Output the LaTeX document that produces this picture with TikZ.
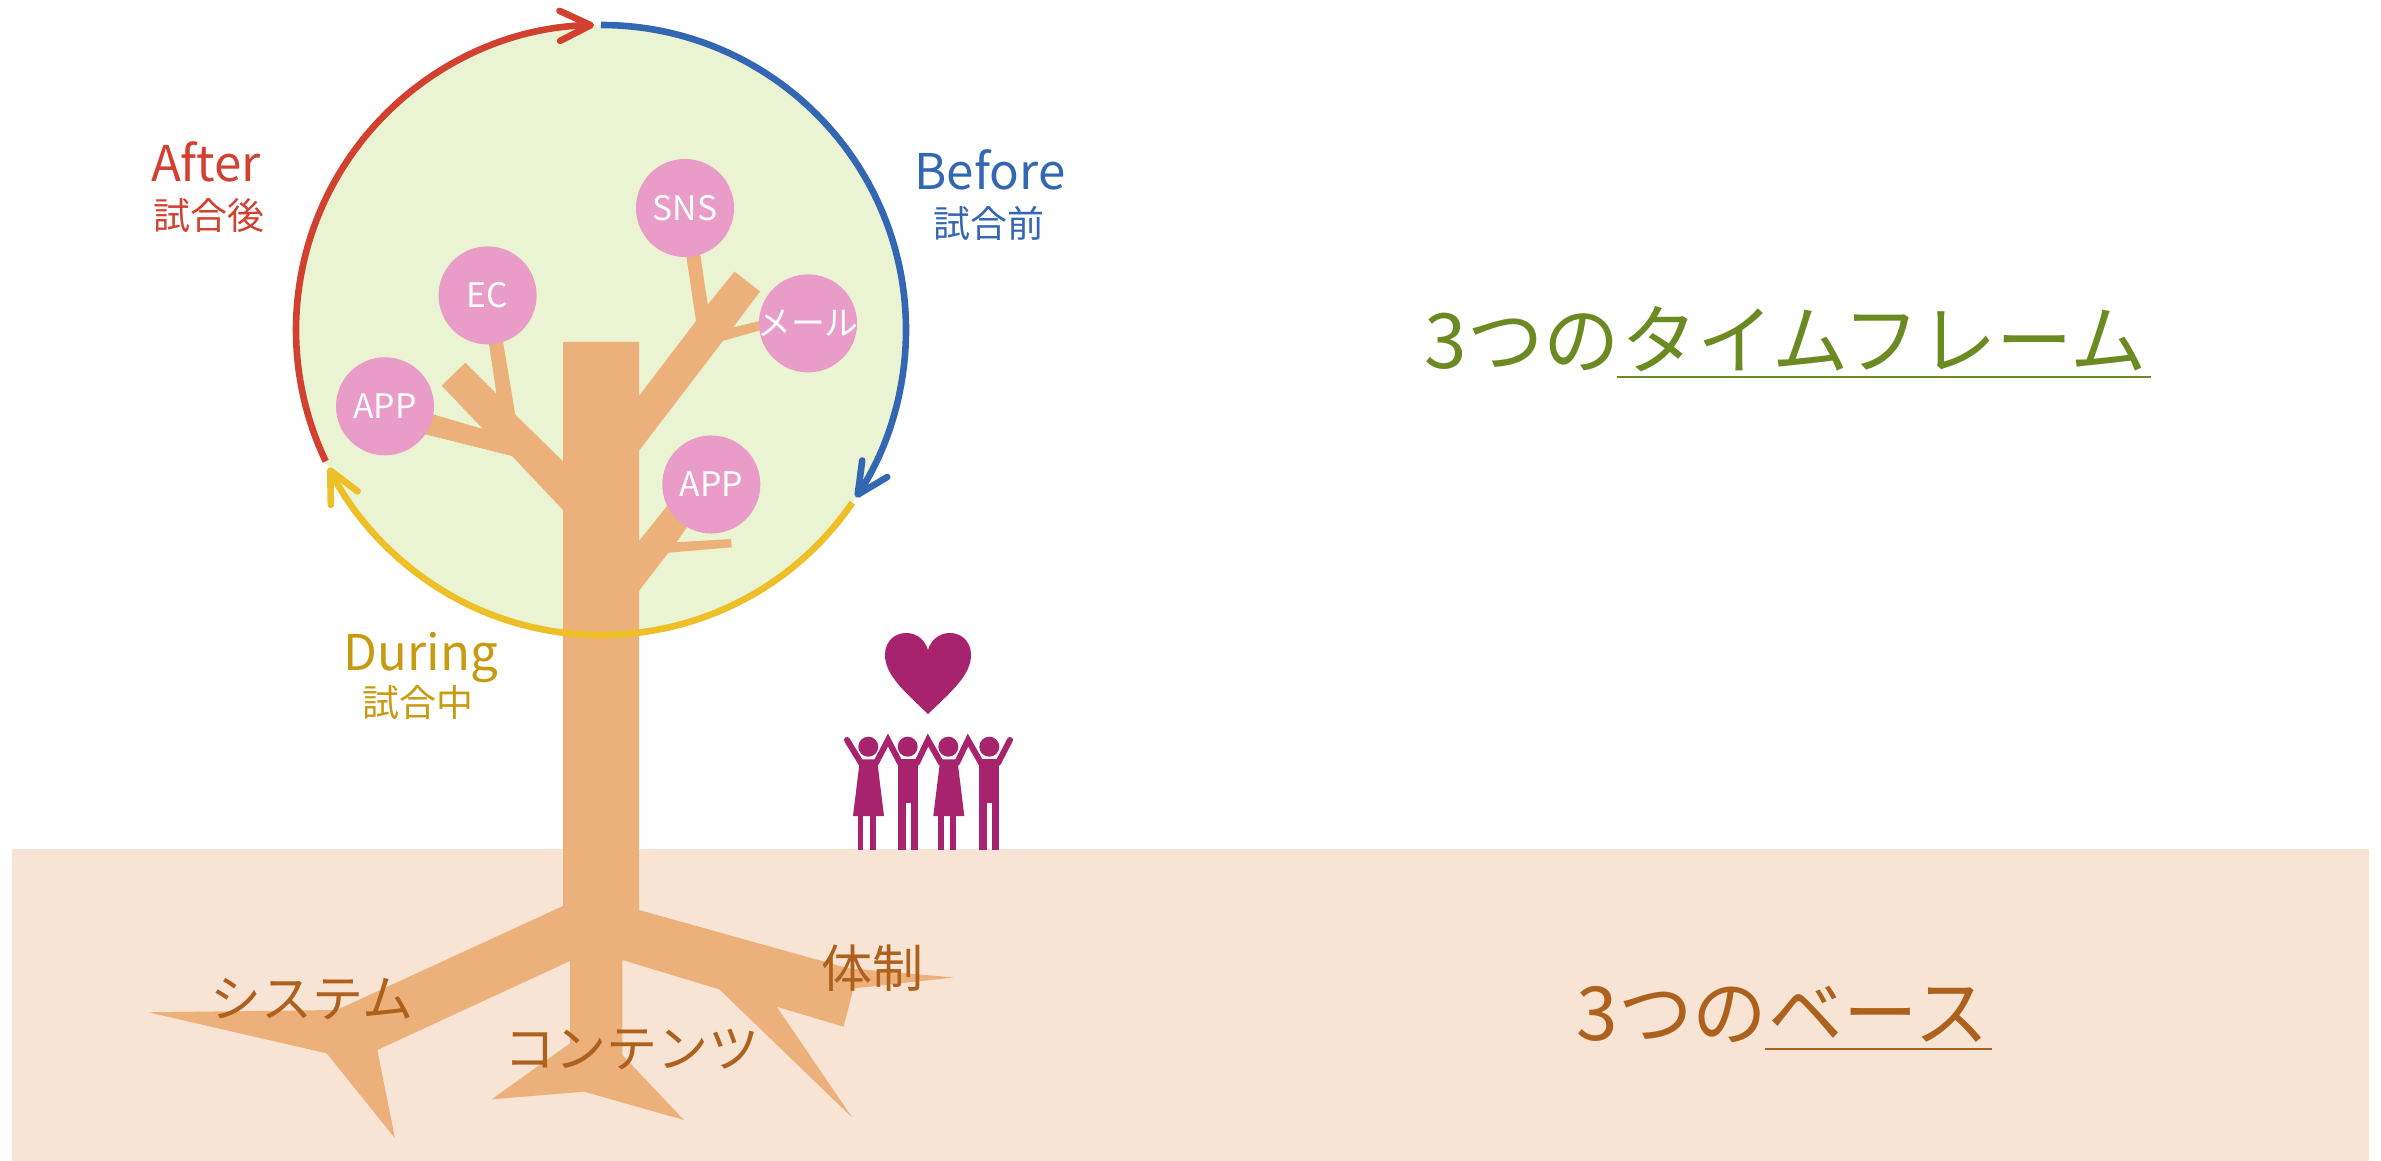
\documentclass[tikz,border=0pt]{standalone}
\usepackage{fontspec}
\setmainfont{Noto Sans CJK JP}
\usetikzlibrary{arrows.meta,calc}

\definecolor{treec}{HTML}{ECB17A}
\definecolor{groundc}{HTML}{F8E4D4}
\definecolor{crownc}{HTML}{EAF3D2}
\definecolor{bubblec}{HTML}{E89CC7}
\definecolor{afterc}{HTML}{D2412F}
\definecolor{beforec}{HTML}{3366B3}
\definecolor{duringc}{HTML}{EEBF26}
\definecolor{duringtxt}{HTML}{C79A0F}
\definecolor{framec}{HTML}{6B8A22}
\definecolor{basec}{HTML}{AD611C}
\definecolor{fanc}{HTML}{A8236E}

\begin{document}
\begin{tikzpicture}[x=0.01cm,y=-0.01cm,
  cyclearc/.style={line width=0.066cm,-{Straight Barb[length=0.31cm,width=0.3cm,round]}},
  bubble/.style={circle,fill=bubblec,minimum size=0.98cm,inner sep=0pt},
  bubbletext/.style={text=white,font=\fontsize{9.6pt}{11pt}\selectfont,inner sep=0pt},
  phase/.style={font=\fontsize{14pt}{16pt}\selectfont,inner sep=0pt},
  phasejp/.style={font=\fontsize{10.5pt}{12pt}\selectfont,inner sep=0pt},
  rootlabel/.style={text=basec,font=\fontsize{14.5pt}{16pt}\selectfont,inner sep=0pt},
  headline/.style={font=\fontsize{21.7pt}{24pt}\selectfont,inner sep=0pt,anchor=base west},
  baseline/.style={font=\fontsize{21.2pt}{24pt}\selectfont,inner sep=0pt,anchor=base west},
  limb/.style={line width=0.06cm,line cap=round,draw=fanc}
]
\useasboundingbox (0,0) rectangle (2381,1161);

% ground
\fill[groundc] (12,849) rectangle (2369,1161);

% crown
\coordinate (c) at (601,330);
\fill[crownc] (c) circle[radius=305];

% trunk and roots
\fill[treec] (563,342) -- (639,342) -- (639,910) -- (847,968) -- (953.5,977.5)
  -- (853.5,988.5) -- (843.5,1026.7) -- (776.7,1006.7) -- (852.3,1117.7)
  -- (719.3,989.3) -- (622.3,960) -- (622.3,1055) -- (684,1120) -- (584,1091.7)
  -- (491.7,1099.3) -- (570,1043.3) -- (570,961) -- (377.3,1050) -- (395,1138.3)
  -- (326.7,1053.3) -- (148.3,1012.3) -- (336.7,1010) -- (563,906) -- cycle;

% left branch
\fill[treec] (563,510) -- (512,456) -- (420,433) -- (425,412) -- (483,429)
  -- (441.6,385.6) -- (465.3,362.8) -- (496.5,394) -- (487.6,335) -- (501.9,335)
  -- (515.3,414.6) -- (563,461.4) -- cycle;
% right branch
\fill[treec] (639,396) -- (696,321) -- (685.4,250) -- (699.6,250) -- (707.7,304.7)
  -- (734.5,271.6) -- (760,291.5) -- (733,327.5) -- (770,318.5) -- (772,327)
  -- (723,340.8) -- (639,450.7) -- cycle;
% lower right branch
\fill[treec] (639,541) -- (680,490) -- (700,500) -- (686.2,528.6) -- (676.4,542.3)
  -- (730.9,539) -- (731.8,547.3) -- (668.4,552.7) -- (639,590.8) -- cycle;

% channels
\node[bubble] (sns) at (685,208) {};
\node[bubble] (ec) at (487.6,295.4) {};
\node[bubble] (appl) at (385,406.3) {};
\node[bubble] (mail) at (808,323.4) {};
\node[bubble] (appr) at (711.3,484.5) {};
\node[bubbletext] (snst) at (sns) {SNS};
\node[bubbletext] (ect) at (ec) {EC};
\node[bubbletext] (applt) at (appl) {APP};
\node[bubbletext] (mailt) at (mail) {メール};
\node[bubbletext] (apprt) at (appr) {APP};

% time cycle
\draw[cyclearc,beforec] ($(c)+(-90:305)$) arc[start angle=-90,end angle=33.3,radius=305];
\draw[cyclearc,duringc] ($(c)+(34.5:305)$) arc[start angle=34.5,end angle=153.2,radius=305];
\draw[cyclearc,afterc] ($(c)+(154.5:305)$) arc[start angle=154.5,end angle=268.7,radius=305];

% phase labels
\node[phase,text=afterc,anchor=base] (after) at (206,181.7) {After};
\node[phasejp,text=afterc] (afterjp) at (209,216) {試合後};
\node[phase,text=beforec,anchor=base] (before) at (990,190) {Before};
\node[phasejp,text=beforec] (beforejp) at (989,223) {試合前};
\node[phase,text=duringtxt,anchor=base] (during) at (421,670) {During};
\node[phasejp,text=duringtxt] (duringjp) at (418,703) {試合中};

% root labels
\node[rootlabel] (sys) at (312,999) {システム};
\node[rootlabel] (cont) at (632,1050) {コンテンツ};
\node[rootlabel] (tai) at (872.5,968) {体制};

% headlines
\node[headline,text=framec] (tf1) at (1424,369) {3つの};
\node[headline,text=framec] (tf2) at (tf1.base east) {タイムフレーム};
\draw[framec,line width=0.02cm] ($(tf2.base west)+(-3,8)$) -- ($(tf2.base east)+(3,8)$);
\node[baseline,text=basec] (bs1) at (1576,1040) {3つの};
\node[baseline,text=basec] (bs2) at (bs1.base east) {ベース};
\draw[basec,line width=0.02cm] ($(bs2.base west)+(-3,9)$) -- ($(bs2.base east)+(3,9)$);

% fans
\fill[fanc] (928,714) .. controls (905,692) and (885,675) .. (885,655)
  .. controls (885,641) and (895,633) .. (906,633)
  .. controls (917,633) and (925,640) .. (928,650)
  .. controls (931,640) and (939,633) .. (950,633)
  .. controls (961,633) and (971,641) .. (971,655)
  .. controls (971,675) and (951,692) .. (928,714) -- cycle;

\foreach \hx in {868.3,907.7,948.3,989.3}
  \fill[fanc] (\hx,746.7) circle[radius=10];
% dresses
\foreach \dx in {868.5,948.8}{
  \fill[fanc] (\dx-8.5,759.3) -- (\dx+8.5,759.3) -- (\dx+15.5,816) -- (\dx-15.5,816) -- cycle;
  \fill[fanc] (\dx-10.8,814) rectangle (\dx-5.2,850);
  \fill[fanc] (\dx+1.5,814) rectangle (\dx+7.2,850);
}
% suits
\foreach \sx in {908.3,989.3}{
  \fill[fanc] (\sx-10,759.3) rectangle (\sx+10,803.3);
  \fill[fanc] (\sx-10,801) rectangle (\sx-2.3,850);
  \fill[fanc] (\sx+2.7,801) rectangle (\sx+10,850);
}
% raised arms
\draw[limb] (861,763) -- (847,740);
\draw[limb] (876,763) -- (888,740) -- (900,763);
\draw[limb] (917,763) -- (928,740) -- (941,763);
\draw[limb] (957,763) -- (968,740) -- (981,763);
\draw[limb] (998,763) -- (1010,740);
\end{tikzpicture}
\end{document}
